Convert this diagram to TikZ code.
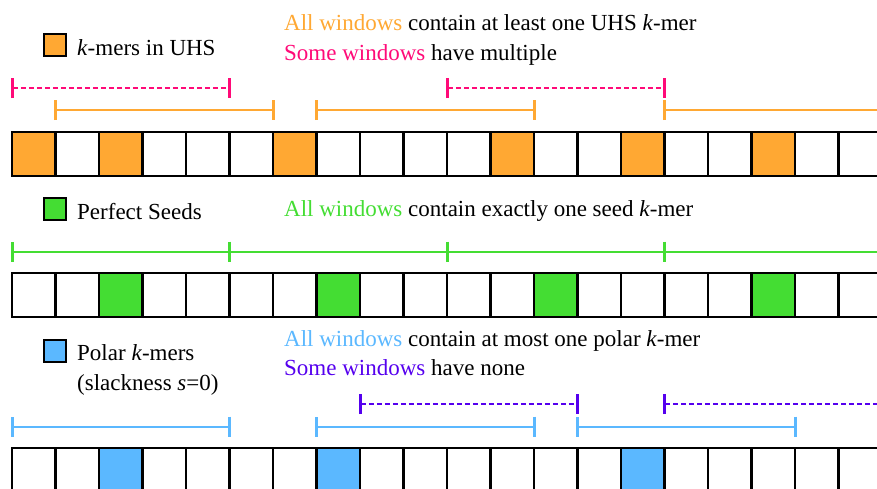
\documentclass[tikz,border=0pt]{standalone}
\usepackage{fontspec}
\setmainfont{Liberation Serif}
\usetikzlibrary{arrows.meta}

\definecolor{uhsorange}{HTML}{FFA833}
\definecolor{seedgreen}{HTML}{44DD33}
\definecolor{polarblue}{HTML}{5BB8FF}
\definecolor{multipink}{HTML}{FF0A78}
\definecolor{nonepurple}{HTML}{5500EE}

% one row of 20 k-mer cells; #1 name prefix, #2 top y, #3 fill colour, #4 filled cells
\newcommand\kmerrow[4]{%
  \foreach \i in {#4}{\fill[#3] ({12+43.5*\i},#2) rectangle +(43.5,44);}
  \foreach \i in {0,...,19}{\node[cell] (#1\i) at ({12+43.5*\i},#2) {};}
}

\begin{document}
\begin{tikzpicture}[x=1pt,y=-1pt,
  cell/.style={draw=black,line width=2.6pt,minimum width=43.5pt,minimum height=44pt,
    inner sep=0pt,outer sep=0pt,anchor=north west},
  legendbox/.style={draw=black,line width=1.5pt,minimum size=22pt,inner sep=0pt,outer sep=0pt},
  lbl/.style={anchor=base west,inner sep=0pt,font=\fontsize{23}{28}\selectfont},
  % window span: bars centred on the cell boundaries
  win/.style={line width=2pt,shorten <=-1.5pt,shorten >=-1.5pt,
    {Bar[width=20pt,line width=3pt]}-{Bar[width=20pt,line width=3pt]}},
  dashwin/.style={win,dash pattern=on 5pt off 3pt},
]
\useasboundingbox (0,0) rectangle (877,488);
\clip (0,0) rectangle (877,488);

% ---------- universal hitting set ----------
\node[legendbox,fill=uhsorange] (legu) at (55,45) {};
\node[lbl] (legutext) at (77,55) {\textit{k}-mers in UHS};
\node[lbl] (uline1) at (284,30) {\textcolor{uhsorange}{All windows} contain at least one UHS \textit{k}-mer};
\node[lbl] (uline2) at (284,60) {\textcolor{multipink}{Some windows} have multiple};

\kmerrow{u}{132}{uhsorange}{0,2,6,11,14,17}

\draw[dashwin,multipink] ([yshift=44pt]u0.north west) -- ([yshift=44pt]u4.north east);
\draw[dashwin,multipink] ([yshift=44pt]u10.north west) -- ([yshift=44pt]u14.north east);
\draw[win,uhsorange] ([yshift=22pt]u1.north west) -- ([yshift=22pt]u5.north east);
\draw[win,uhsorange] ([yshift=22pt]u7.north west) -- ([yshift=22pt]u11.north east);
\draw[win,uhsorange] ([yshift=22pt]u15.north west) -- ([yshift=22pt]u19.north east);

% ---------- perfect seeds ----------
\node[legendbox,fill=seedgreen] (legs) at (55,209) {};
\node[lbl] (legstext) at (77,219) {Perfect Seeds};
\node[lbl] (sline1) at (284,216) {\textcolor{seedgreen}{All windows} contain exactly one seed \textit{k}-mer};

\kmerrow{s}{273}{seedgreen}{2,7,12,17}

\draw[win,seedgreen] ([yshift=21.5pt]s0.north west) -- ([yshift=21.5pt]s4.north east);
\draw[win,seedgreen] ([yshift=21.5pt]s5.north west) -- ([yshift=21.5pt]s9.north east);
\draw[win,seedgreen] ([yshift=21.5pt]s10.north west) -- ([yshift=21.5pt]s14.north east);
\draw[win,seedgreen] ([yshift=21.5pt]s15.north west) -- ([yshift=21.5pt]s19.north east);

% ---------- polar k-mers ----------
\node[legendbox,fill=polarblue] (legp) at (55,351) {};
\node[lbl] (legptext1) at (77,360.5) {Polar \textit{k}-mers};
\node[lbl] (legptext2) at (77,390) {(slackness \textit{s}=0)};
\node[lbl] (pline1) at (284,346) {\textcolor{polarblue}{All windows} contain at most one polar \textit{k}-mer};
\node[lbl] (pline2) at (284,375) {\textcolor{nonepurple}{Some windows} have none};

\kmerrow{p}{448}{polarblue}{2,7,14}

\draw[dashwin,nonepurple] ([yshift=44pt]p8.north west) -- ([yshift=44pt]p12.north east);
\draw[dashwin,nonepurple] ([yshift=44pt]p15.north west) -- ([yshift=44pt]p19.north east);
\draw[win,polarblue] ([yshift=21.5pt]p0.north west) -- ([yshift=21.5pt]p4.north east);
\draw[win,polarblue] ([yshift=21.5pt]p7.north west) -- ([yshift=21.5pt]p11.north east);
\draw[win,polarblue] ([yshift=21.5pt]p13.north west) -- ([yshift=21.5pt]p17.north east);
\end{tikzpicture}
\end{document}
